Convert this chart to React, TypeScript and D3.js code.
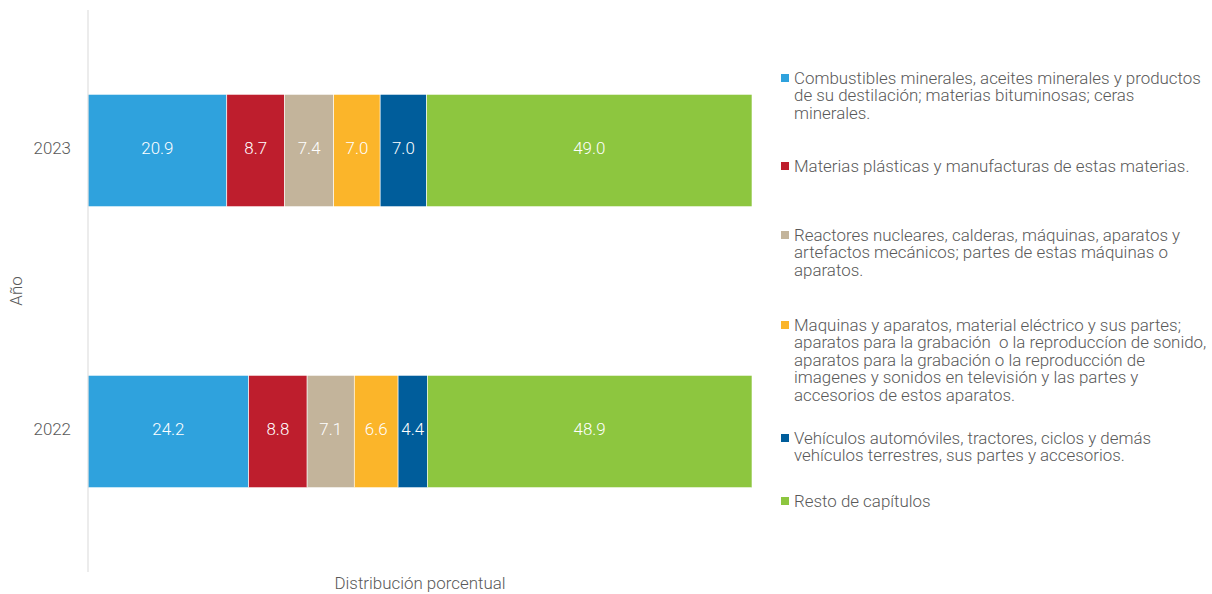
import React from 'react'
import * as d3 from 'd3'

const years = ['2023', '2022']
const seriesKeys = ['combustibles', 'plasticos', 'reactores', 'maquinas', 'vehiculos', 'resto']
const seriesColors = ['#2fa2dd', '#be1e2d', '#c3b49b', '#fbb52a', '#005d9b', '#8dc63f']
const combustibles = [20.9, 24.2]
const plasticos = [8.7, 8.8]
const reactores = [7.4, 7.1]
const maquinas = [7.0, 6.6]
const vehiculos = [7.0, 4.4]
const resto = [49.0, 48.9]
const legendLines = [
  ['Combustibles minerales, aceites minerales y productos', 'de su destilación; materias bituminosas; ceras', 'minerales.'],
  ['Materias plásticas y manufacturas de estas materias.'],
  ['Reactores nucleares, calderas, máquinas, aparatos y', 'artefactos mecánicos; partes de estas máquinas o', 'aparatos.'],
  [
    'Maquinas y aparatos, material eléctrico y sus partes;',
    'aparatos para la grabación  o la reproduccíon de sonido,',
    'aparatos para la grabación o la reproducción de',
    'imagenes y sonidos en televisión y las partes y',
    'accesorios de estos aparatos.'
  ],
  ['Vehículos automóviles, tractores, ciclos y demás', 'vehículos terrestres, sus partes y accesorios.'],
  ['Resto de capítulos']
]

const width = 1212
const height = 594
const margin = { left: 88, top: 10, plotRight: 752, bottom: 572 }
const legendX = 781
const legendTops = [78, 166, 235, 325, 438, 501]
const lineHeight = 17.4
const font = 'Roboto, "Noto Sans", sans-serif'
const fontSize = 16.9

const App: React.FC = () => {
  const rows = years.map((year, i) => ({
    year,
    combustibles: combustibles[i],
    plasticos: plasticos[i],
    reactores: reactores[i],
    maquinas: maquinas[i],
    vehiculos: vehiculos[i],
    resto: resto[i]
  }))
  const stacked = d3.stack<any>().keys(seriesKeys)(rows)

  const x = d3.scaleLinear().domain([0, 100]).range([margin.left, margin.plotRight])
  const y = d3.scaleBand()
    .domain(years)
    .range([margin.top, margin.bottom])
    .paddingInner(0.6)
    .paddingOuter(0.3)
  const color = d3.scaleOrdinal<string, string>().domain(seriesKeys).range(seriesColors)

  return (
    <svg width={width} height={height} style={{ position: 'absolute', left: 0, top: 0 }}>
      <rect width={width} height={height} fill="#fff" />
      {stacked.map((layer) => (
        <g key={layer.key}>
          {layer.map((d, i) => {
            const x0 = x(d[0])
            const x1 = x(d[1])
            const yy = y(years[i]) || 0
            return (
              <g key={years[i]}>
                <rect
                  x={x0}
                  y={yy}
                  width={x1 - x0}
                  height={y.bandwidth()}
                  fill={color(layer.key)}
                  stroke="#fff"
                  strokeWidth={0.6}
                />
                <text
                  x={(x0 + x1) / 2}
                  y={yy + y.bandwidth() / 2 - 2}
                  dy="0.35em"
                  textAnchor="middle"
                  fill="#fff"
                  fontFamily={font}
                  fontWeight={300}
                  fontSize={fontSize}
                >
                  {(d[1] - d[0]).toFixed(1)}
                </text>
              </g>
            )
          })}
        </g>
      ))}
      <line x1={margin.left} x2={margin.left} y1={margin.top} y2={margin.bottom} stroke="#d9d9d9" strokeWidth={1} />
      {years.map((year) => (
        <text
          key={year}
          x={71}
          y={(y(year) || 0) + y.bandwidth() / 2 - 2}
          dy="0.35em"
          textAnchor="end"
          fill="#595959"
          fontFamily={font}
          fontWeight={300}
          fontSize={fontSize}
        >
          {year}
        </text>
      ))}
      <text
        transform={`translate(22,${(margin.top + margin.bottom) / 2}) rotate(-90)`}
        textAnchor="middle"
        fill="#595959"
        fontFamily={font}
        fontWeight={300}
        fontSize={fontSize}
      >
        Año
      </text>
      <text
        x={(margin.left + margin.plotRight) / 2}
        y={589}
        textAnchor="middle"
        fill="#595959"
        fontFamily={font}
        fontWeight={300}
        fontSize={fontSize}
      >
        Distribución porcentual
      </text>
      {legendLines.map((lines, i) => (
        <g key={seriesKeys[i]} transform={`translate(${legendX},${legendTops[i]})`}>
          <rect x={0} y={-4} width={8} height={8} fill={color(seriesKeys[i])} />
          {lines.map((line, j) => (
            <text
              key={j}
              x={13}
              y={j * lineHeight}
              dy="0.35em"
              fill="#595959"
              fontFamily={font}
              fontWeight={300}
              fontSize={fontSize}
              style={{ whiteSpace: 'pre' }}
            >
              {line}
            </text>
          ))}
        </g>
      ))}
    </svg>
  )
}

export default App
